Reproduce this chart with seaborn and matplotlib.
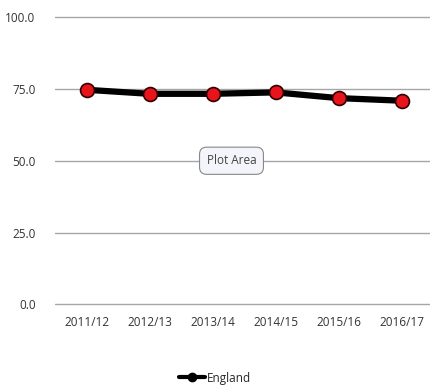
import pandas as pd
import seaborn as sns
from matplotlib import pyplot as plt
from matplotlib.lines import Line2D

years = ['2011/12', '2012/13', '2013/14', '2014/15', '2015/16', '2016/17']
england = [74.7, 73.3, 73.3, 73.8, 71.8, 70.9]

df = pd.DataFrame({'Year': years, 'England': england})

sns.set_style('white')
plt.rcParams['font.family'] = ['Open Sans', 'DejaVu Sans']

fig = plt.figure(figsize=(4.3, 3.89), dpi=100)
ax = fig.add_axes([0.128, 0.213, 0.872, 0.746])

sns.lineplot(data=df, x='Year', y='England', ax=ax, color='black', lw=4.5,
             marker='o', markersize=10, markerfacecolor='#e8141b',
             markeredgecolor='#300', markeredgewidth=1.2, legend=False,
             sort=False)

ax.set_ylim(-0.6, 100.4)
ax.set_xlim(-0.5, 5.45)
ax.set_yticks([0, 25, 50, 75, 100])
ax.set_yticklabels([f'{v:.1f}' for v in [0, 25, 50, 75, 100]])
ax.grid(axis='y', color='#a6a6a6', lw=1)
ax.set_axisbelow(True)
for s in ax.spines.values():
    s.set_visible(False)
ax.tick_params(axis='both', length=0, labelsize=8.5, colors='#333333', pad=7)
ax.tick_params(axis='y', pad=14)
ax.set_xlabel('')
ax.set_ylabel('')

ax.text(2.3, 50, 'Plot Area', ha='center', va='center', fontsize=8.5, color='#444444',
        bbox=dict(boxstyle='round,pad=0.6', fc='#f4f4fb', ec='#888888', lw=0.8))

handle = Line2D([], [], color='black', lw=3, marker='o', markersize=6,
                markerfacecolor='black', markeredgecolor='black')
fig.legend(handles=[handle], labels=['England'], loc='center',
           bbox_to_anchor=(0.5, 0.028), frameon=False, fontsize=8.5,
           handlelength=2.2, handletextpad=0.1)

fig.savefig('out.png', dpi=100)
